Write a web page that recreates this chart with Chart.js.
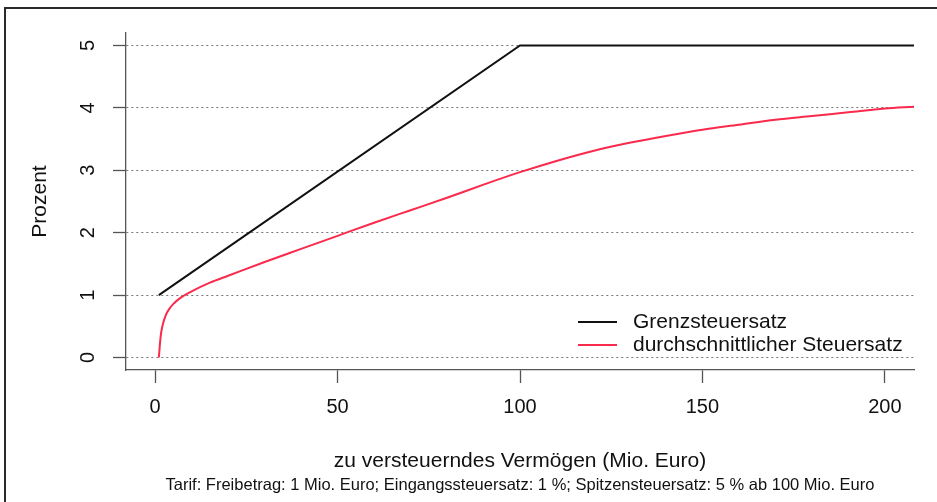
<!DOCTYPE html>
<html>
<head>
<meta charset="utf-8">
<script src="https://cdn.jsdelivr.net/npm/chart.js@4/dist/chart.umd.min.js"></script>
<style>
  html, body { margin: 0; padding: 0; background: #fff; }
</style>
</head>
<body>
<canvas id="chart" width="937" height="502"></canvas>
<script>
// Vermoegen in Mio. Euro, Steuersatz in Prozent
const vermoegen = [1, 1.5, 2, 3, 4, 5, 7, 10, 15, 20, 30, 40, 50, 60, 70, 80, 90, 100,
                   110, 120, 130, 140, 150, 160, 170, 180, 190, 200, 208];
const durchschnittSatz = [0, 0.34, 0.51, 0.69, 0.79, 0.86, 0.96, 1.06, 1.2, 1.31, 1.53, 1.74, 1.95,
                          2.16, 2.36, 2.56, 2.77, 2.97, 3.15, 3.31, 3.44, 3.55, 3.65, 3.73, 3.81,
                          3.87, 3.93, 3.99, 4.02];
const grenzVermoegen = [1, 100, 208];
const grenzSatz = [1, 5, 5];

const xTicks = [0, 50, 100, 150, 200];
const yTicks = [0, 1, 2, 3, 4, 5];

const seriesLabels = ['Grenzsteuersatz', 'durchschnittlicher Steuersatz'];
const xTitle = 'zu versteuerndes Vermögen (Mio. Euro)';
const yTitle = 'Prozent';
const subTitle = 'Tarif: Freibetrag: 1 Mio. Euro; Eingangssteuersatz: 1 %; Spitzensteuersatz: 5 % ab 100 Mio. Euro';

const FONT = '"Liberation Sans", Arial, Helvetica, sans-serif';

function toPoints(xs, ys) {
    return xs.map((x, i) => ({ x: x, y: ys[i] }));
}

// Draws the R-style pieces: frame, rotated y labels, titles and the legend
const decorations = {
    id: 'decorations',
    afterDraw(chart) {
        const ctx = chart.ctx;
        const area = chart.chartArea;
        const yScale = chart.scales.y;

        ctx.save();

        // outer frame (only left and top edge are visible)
        ctx.strokeStyle = '#2a2a2a';
        ctx.lineWidth = 2;
        ctx.beginPath();
        ctx.moveTo(5, 502);
        ctx.lineTo(5, 8);
        ctx.lineTo(937, 8);
        ctx.stroke();

        ctx.fillStyle = '#111';

        // y tick labels, rotated like in R
        ctx.font = '20px ' + FONT;
        ctx.textAlign = 'center';
        ctx.textBaseline = 'middle';
        yTicks.forEach(v => {
            ctx.save();
            ctx.translate(88, yScale.getPixelForValue(v));
            ctx.rotate(-Math.PI / 2);
            ctx.fillText(String(v), 0, 0);
            ctx.restore();
        });

        // y axis title
        ctx.font = '21px ' + FONT;
        ctx.save();
        ctx.translate(40, (area.top + area.bottom) / 2);
        ctx.rotate(-Math.PI / 2);
        ctx.fillText(yTitle, 0, 0);
        ctx.restore();

        // x axis title and subtitle
        const cx = (area.left + area.right) / 2;
        ctx.fillText(xTitle, cx, 461);
        ctx.font = '16.5px ' + FONT;
        ctx.fillText(subTitle, cx, 485);

        // legend without box
        ctx.font = '21px ' + FONT;
        ctx.textAlign = 'left';
        chart.data.datasets.forEach((ds, i) => {
            const y = 322 + i * 23;
            ctx.strokeStyle = ds.borderColor;
            ctx.lineWidth = 2;
            ctx.beginPath();
            ctx.moveTo(578, y);
            ctx.lineTo(617, y);
            ctx.stroke();
            ctx.fillStyle = '#111';
            ctx.fillText(ds.label, 633, y);
        });

        ctx.restore();
    }
};

const ctx = document.getElementById('chart').getContext('2d');
new Chart(ctx, {
    type: 'line',
    data: {
        datasets: [
            {
                label: seriesLabels[0],
                data: toPoints(grenzVermoegen, grenzSatz),
                borderColor: '#111111',
                borderWidth: 2,
                pointRadius: 0,
                tension: 0
            },
            {
                label: seriesLabels[1],
                data: toPoints(vermoegen, durchschnittSatz),
                borderColor: '#fa2a4c',
                borderWidth: 2,
                pointRadius: 0,
                cubicInterpolationMode: 'monotone'
            }
        ]
    },
    options: {
        responsive: false,
        animation: false,
        layout: {
            padding: { top: 33, right: 23, left: 0, bottom: 0 }
        },
        plugins: {
            legend: { display: false },
            tooltip: { enabled: false }
        },
        scales: {
            x: {
                type: 'linear',
                min: -8,
                max: 208,
                afterBuildTicks: function(scale) {
                    scale.ticks = xTicks.map(v => ({ value: v }));
                },
                afterFit: function(scale) {
                    scale.height = 132;
                },
                grid: {
                    drawOnChartArea: false,
                    drawTicks: true,
                    tickLength: 13,
                    tickColor: '#555',
                    tickWidth: 1.3
                },
                border: { color: '#555', width: 1.3 },
                ticks: {
                    color: '#111',
                    padding: 12,
                    maxRotation: 0,
                    font: { family: FONT, size: 20 }
                }
            },
            y: {
                type: 'linear',
                min: -0.2,
                max: 5.2,
                afterBuildTicks: function(scale) {
                    scale.ticks = yTicks.map(v => ({ value: v }));
                },
                afterFit: function(scale) {
                    scale.width = 126;
                },
                grid: {
                    color: '#777',
                    lineWidth: 1,
                    borderDash: [2, 3],
                    drawTicks: true,
                    tickLength: 13,
                    tickColor: '#555',
                    tickWidth: 1.3,
                    tickBorderDash: []
                },
                border: { color: '#555', width: 1.3, dash: [2, 3] },
                ticks: { display: false }
            }
        }
    },
    plugins: [decorations]
});
</script>
</body>
</html>
